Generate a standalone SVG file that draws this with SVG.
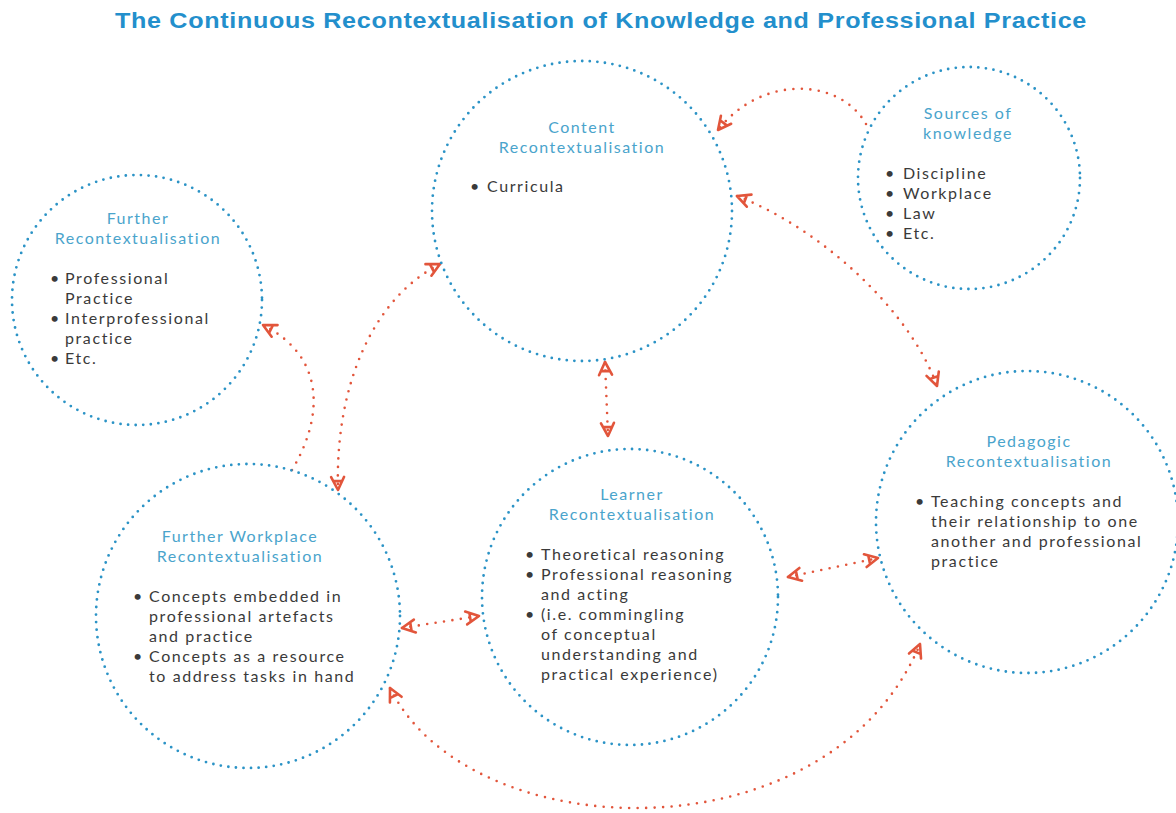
<svg xmlns="http://www.w3.org/2000/svg" width="1176" height="813" viewBox="0 0 1176 813">
  <style>
    .ring { fill: none; stroke: #2b93c6; stroke-width: 2.8; stroke-linecap: round; stroke-dasharray: 0 7.6; }
    .link { fill: none; stroke: #e2553b; stroke-width: 2.6; stroke-linecap: round; stroke-dasharray: 0 8.5; }
    .title { font-family: "Liberation Sans", Arial, sans-serif; font-weight: bold; font-size: 22.5px; fill: #238fcc; letter-spacing: 0.6px; }
    .head { font-family: "Lato", "Liberation Sans", sans-serif; font-size: 16px; fill: #4aa4cc; letter-spacing: 1.5px; text-anchor: middle; }
    .body { font-family: "Lato", "Liberation Sans", sans-serif; font-size: 16px; fill: #3a3a3a; letter-spacing: 1.6px; }
  </style>
  <defs>
    <marker id="chev" markerUnits="userSpaceOnUse" markerWidth="18" markerHeight="18" viewBox="0 0 18 18" refX="16" refY="9" orient="auto-start-reverse">
      <path d="M3,2.5 L16,9 L3,15.5 M7,5 L7,13" fill="none" stroke="#e2553b" stroke-width="2.6" stroke-linecap="round" stroke-linejoin="round"/>
    </marker>
  </defs>
  <rect width="1176" height="813" fill="#fff"/>

  <text class="title" x="601" y="28" text-anchor="middle" textLength="972" lengthAdjust="spacingAndGlyphs">The Continuous Recontextualisation of Knowledge and Professional Practice</text>

  <g id="connectors">
    <path class="link" d="M 866 124 C 840 78, 762 74, 718 130" marker-end="url(#chev)"/>
    <path class="link" d="M 737 196 C 820 228, 910 310, 937 386" marker-start="url(#chev)" marker-end="url(#chev)"/>
    <path class="link" d="M 605 362 L 608 436" marker-start="url(#chev)" marker-end="url(#chev)"/>
    <path class="link" d="M 440 264 C 370 300, 335 390, 338 490" marker-start="url(#chev)" marker-end="url(#chev)"/>
    <path class="link" d="M 292 470 C 322 420, 328 358, 263 325" marker-end="url(#chev)"/>
    <path class="link" d="M 402 628 L 479 616" marker-start="url(#chev)" marker-end="url(#chev)"/>
    <path class="link" d="M 788 577 L 878 558" marker-start="url(#chev)" marker-end="url(#chev)"/>
    <path class="link" d="M 390 688 C 470 850, 830 860, 920 644" marker-start="url(#chev)" marker-end="url(#chev)"/>
  </g>

  <g id="content">
    <circle class="ring" cx="582" cy="211" r="150"/>
    <text class="head" x="582" y="133">Content</text>
    <text class="head" x="582" y="153">Recontextualisation</text>
    <text class="body" x="470" y="192">•</text>
    <text class="body" x="487" y="192">Curricula</text>
  </g>

  <g id="sources">
    <circle class="ring" cx="969" cy="178" r="111"/>
    <text class="head" x="968" y="119">Sources of</text>
    <text class="head" x="968" y="139">knowledge</text>
    <text class="body" x="885" y="179">•</text>
    <text class="body" x="903" y="179">Discipline</text>
    <text class="body" x="885" y="199">•</text>
    <text class="body" x="903" y="199">Workplace</text>
    <text class="body" x="885" y="219">•</text>
    <text class="body" x="903" y="219">Law</text>
    <text class="body" x="885" y="239">•</text>
    <text class="body" x="903" y="239">Etc.</text>
  </g>

  <g id="further">
    <circle class="ring" cx="137" cy="300" r="125"/>
    <text class="head" x="138" y="224">Further</text>
    <text class="head" x="138" y="244">Recontextualisation</text>
    <text class="body" x="50" y="284">•</text>
    <text class="body" x="65" y="284">Professional</text>
    <text class="body" x="65" y="304">Practice</text>
    <text class="body" x="50" y="324">•</text>
    <text class="body" x="65" y="324">Interprofessional</text>
    <text class="body" x="65" y="344">practice</text>
    <text class="body" x="50" y="364">•</text>
    <text class="body" x="65" y="364">Etc.</text>
  </g>

  <g id="workplace">
    <circle class="ring" cx="248" cy="616" r="152"/>
    <text class="head" x="240" y="542">Further Workplace</text>
    <text class="head" x="240" y="562">Recontextualisation</text>
    <text class="body" x="133" y="602">•</text>
    <text class="body" x="149" y="602">Concepts embedded in</text>
    <text class="body" x="149" y="622">professional artefacts</text>
    <text class="body" x="149" y="642">and practice</text>
    <text class="body" x="133" y="662">•</text>
    <text class="body" x="149" y="662">Concepts as a resource</text>
    <text class="body" x="149" y="682">to address tasks in hand</text>
  </g>

  <g id="learner">
    <circle class="ring" cx="630" cy="597" r="148"/>
    <text class="head" x="632" y="500">Learner</text>
    <text class="head" x="632" y="520">Recontextualisation</text>
    <text class="body" x="525" y="560">•</text>
    <text class="body" x="541" y="560">Theoretical reasoning</text>
    <text class="body" x="525" y="580">•</text>
    <text class="body" x="541" y="580">Professional reasoning</text>
    <text class="body" x="541" y="600">and acting</text>
    <text class="body" x="525" y="620">•</text>
    <text class="body" x="541" y="620">(i.e. commingling</text>
    <text class="body" x="541" y="640">of conceptual</text>
    <text class="body" x="541" y="660">understanding and</text>
    <text class="body" x="541" y="680">practical experience)</text>
  </g>

  <g id="pedagogic">
    <circle class="ring" cx="1027" cy="522" r="151"/>
    <text class="head" x="1029" y="447">Pedagogic</text>
    <text class="head" x="1029" y="467">Recontextualisation</text>
    <text class="body" x="915" y="507">•</text>
    <text class="body" x="931" y="507">Teaching concepts and</text>
    <text class="body" x="931" y="527">their relationship to one</text>
    <text class="body" x="931" y="547">another and professional</text>
    <text class="body" x="931" y="567">practice</text>
  </g>
</svg>
